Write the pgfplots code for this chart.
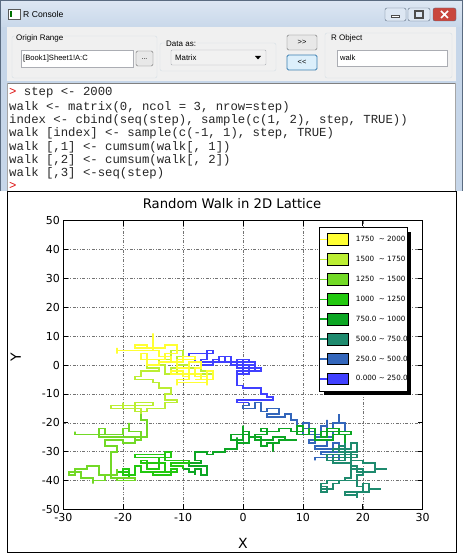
\documentclass[border=0pt]{standalone}
\usepackage{fontspec}
\setmainfont{DejaVu Sans}
\setmonofont{Liberation Mono}
\newfontfamily\uifont{Liberation Sans}
\usepackage{pgfplots}
\pgfplotsset{compat=1.18}
\definecolor{c0}{HTML}{4040FF}
\definecolor{c1}{HTML}{3366BB}
\definecolor{c2}{HTML}{1E8A6E}
\definecolor{c3}{HTML}{0CA623}
\definecolor{c4}{HTML}{22C80F}
\definecolor{c5}{HTML}{72D926}
\definecolor{c6}{HTML}{BBEE33}
\definecolor{c7}{HTML}{FFFF33}
\definecolor{tb1}{HTML}{DDE7F3}
\definecolor{tb2}{HTML}{C9D8EA}
\definecolor{winframe}{HTML}{C6D6E9}
\definecolor{framedark}{HTML}{5A6B80}
\definecolor{panel}{HTML}{F0F0F0}
\definecolor{gbox}{HTML}{D5DFE5}
\definecolor{fieldb}{HTML}{ABADB3}
\definecolor{btnb}{HTML}{707070}
\definecolor{btnf}{HTML}{E8E8E8}
\definecolor{hlb}{HTML}{3C7FB1}
\definecolor{hlf}{HTML}{DCEFFB}
\definecolor{promptred}{HTML}{DD1111}
\definecolor{closered}{HTML}{C9463D}
\pgfplotsset{legbox/.style={legend image code/.code={\path (0pt,0pt) -- (28pt,0pt);\draw[fill=#1,draw=black,line width=0.9pt] (7pt,-5.8pt) rectangle (28pt,5.8pt);}}}
\begin{document}
\begin{tikzpicture}
\useasboundingbox (0,0) rectangle (463pt,553pt);
\begin{scope}[shift={(0pt,553pt)},x=1pt,y=-1pt]
\fill[white] (0,0) rectangle (463,553);
\fill[winframe] (0,0) rectangle (463,191);
\shade[top color=tb1,bottom color=tb2] (0,0) rectangle (463,27);
\draw[framedark,line width=0.8pt] (0.4,191) -- (0.4,0.4) -- (462.6,0.4) -- (462.6,191);
% icon
\fill[white] (8,9) rectangle (20,19);
\draw[gray!70!black,line width=0.5pt] (8,9) rectangle (20,19);
\fill[green!45!black] (9.5,11) rectangle (12,17);
\node[anchor=base west,font=\uifont\fontsize{8.6}{10}\selectfont,inner sep=0] at (23,18) {R Console};
% window buttons
\draw[rounded corners=2pt,fill=tb1,draw=framedark] (385,8) rectangle (406,21);
\fill[white] (391,15) rectangle (399,17.5);
\draw[black!70,line width=0.5pt] (391,15) rectangle (399,17.5);
\draw[rounded corners=2pt,fill=tb1,draw=framedark] (408,8) rectangle (430,21);
\draw[black!70,line width=1.5pt] (415,11) rectangle (423,18);
\draw[rounded corners=2pt,fill=closered,draw=framedark] (433,8) rectangle (456,21);
\draw[white,line width=1.6pt] (441,11) -- (448,18) (448,11) -- (441,18);
% panel
\fill[panel] (7,27) rectangle (456,81);
\draw[gbox,rounded corners=2pt] (12,36) rectangle (157,78);
\node[anchor=base west,font=\uifont\fontsize{8}{10}\selectfont,inner sep=1pt,fill=panel] at (15,41) {Origin Range};
\draw[fieldb,fill=white] (21,50) rectangle (133,67);
\node[anchor=west,font=\uifont\fontsize{7.6}{9}\selectfont,inner sep=0] at (23,58.5) {[Book1]Sheet1!A:C};
\draw[btnb,fill=btnf,rounded corners=1.5pt] (136,51) rectangle (153,66);
\node[font=\uifont\fontsize{7}{8}\selectfont,inner sep=0] at (144.5,59) {...};
\draw[gbox,rounded corners=2pt] (160,43) rectangle (276,71);
\node[anchor=base west,font=\uifont\fontsize{8}{10}\selectfont,inner sep=1pt,fill=panel] at (165,46.5) {Data as:};
\draw[fieldb,fill=btnf!60!white,rounded corners=1pt] (171,50) rectangle (266,65);
\node[anchor=west,font=\uifont\fontsize{7.8}{9}\selectfont,inner sep=0] at (175,58) {Matrix};
\fill[black] (255,56) -- (261,56) -- (258,59.5) -- cycle;
\draw[btnb,fill=btnf,rounded corners=1.5pt] (287,35) rectangle (317,50);
\node[font=\uifont\fontsize{7.5}{9}\selectfont,inner sep=0] at (302,42.5) {>>};
\draw[hlb,fill=hlf,rounded corners=1.5pt,line width=0.9pt] (287,55) rectangle (317,70);
\node[font=\uifont\fontsize{7.5}{9}\selectfont,inner sep=0] at (302,62.5) {<<};
\draw[gbox,rounded corners=2pt] (325,33) rectangle (452,78);
\node[anchor=base west,font=\uifont\fontsize{8}{10}\selectfont,inner sep=1pt,fill=panel] at (330,41) {R Object};
\draw[fieldb,fill=white] (337,50) rectangle (447,66);
\node[anchor=west,font=\uifont\fontsize{7.6}{9}\selectfont,inner sep=0] at (340,58) {walk};
% console
\fill[white] (7,83) rectangle (456,191);
\draw[gray,line width=1.2pt] (7,83.6) -- (456,83.6);
\draw[gray!70,line width=0.8pt] (7.4,83) -- (7.4,191) (455.6,83) -- (455.6,191);
\begin{scope}[every node/.style={anchor=base west,inner sep=0,font=\ttfamily\fontsize{12.3}{13}\selectfont,text=black!85}]
\node at (9,96) {{\color{promptred}>} step <- 2000};
\node at (9,110.5) {walk <- matrix(0, ncol = 3, nrow=step)};
\node at (9,123.7) {index <- cbind(seq(step), sample(c(1, 2), step, TRUE))};
\node at (9,137) {walk [index] <- sample(c(-1, 1), step, TRUE)};
\node at (9,150.3) {walk [,1] <- cumsum(walk[, 1])};
\node at (9,163.6) {walk [,2] <- cumsum(walk[, 2])};
\node at (9,177) {walk [,3] <-seq(step)};
\node at (9,189.3) {{\color{promptred}>}};
\end{scope}
% chart frame
\draw[black,line width=1pt] (7.5,191.5) rectangle (456.5,552.5);
% chart title
\node[anchor=base,inner sep=0,font=\fontsize{13.2}{15}\selectfont] at (232,209) {Random Walk in 2D Lattice};
\end{scope}
\begin{axis}[
  at={(63.3pt,43.5pt)}, anchor=south west,
  width=359.4pt, height=288.8pt, scale only axis,
  xmin=-30, xmax=30, ymin=-50, ymax=50,
  xtick={-30,-20,...,30}, ytick={-50,-40,...,50},
  grid=major,
  major grid style={black!55, line width=0.6pt, dash pattern=on 3pt off 1.5pt on 1pt off 1.5pt on 1pt off 1.5pt},
  axis line style={line width=1pt},
  tick style={black, line width=0.8pt},
  major tick length=5pt,
  tick label style={font=\fontsize{11}{12}\selectfont},
  /pgf/number format/assume math mode=true,
  xlabel={X}, ylabel={Y},
  xlabel style={at={(axis description cs:0.5,-0.116)}, anchor=center, font=\fontsize{14}{16}\selectfont},
  ylabel style={at={(axis description cs:-0.132,0.526)}, anchor=center, rotate=0, font=\fontsize{14}{16}\selectfont},
  legend cell align=left,
  reverse legend,
  legend style={at={(axis description cs:0.711,0.978)}, anchor=north west, draw=black, line width=1pt, fill=white,
    font=\fontsize{7.2}{8.5}\selectfont, row sep=0pt, column sep=7pt, inner xsep=0pt, inner ysep=2.2pt,
    nodes={inner sep=0pt, minimum height=19.9pt}},
  every axis plot/.append style={line width=1.6pt, no marks},
]
\fill[black] (axis description cs:0.7254,0.3965) rectangle (axis description cs:0.9675,0.9609);
\addplot[c0, legbox=c0] coordinates {(0,0)(1,0)(1,-1)(-1,-1)(-1,1)(2,1)(2,-2)(0,-2)(0,2)(-1,2)(-1,0)(-2,0)(-2,1)(-4,1)(-4,3)(-3,3)(-3,1)(-5,1)(-5,0)(-7,0)(-7,1)(-8,1)(-8,3)(-9,3)(-9,4)(-6,4)(-6,5)(-5,5)(-5,4)(-6,4)(-6,2)(-7,2)(-7,1)(-5,1)(-5,2)(-4,2)(-4,1)(-3,1)(-3,3)(-2,3)(-2,1)(-1,1)(-1,2)(1,2)(1,1)(2,1)(2,0)(-1,0)(-1,-1)(3,-1)(3,-2)(-1,-2)(-1,-3)(1,-3)(1,0)(0,0)(0,-3)(-1,-3)(-1,-7)(0,-7)(0,-8)(3,-8)(3,-10)(4,-10)(4,-11)(5,-11)(5,-12)(-1,-12)(-1,-13)(1,-13)};
\addlegendentry{0.000 \textasciitilde{} 250.0}
\addplot[c1, legbox=c1] coordinates {(1,-13)(1,-14)(0,-14)(0,-15)(2,-15)(2,-13)(3,-13)(3,-16)(4,-16)(4,-15)(6,-15)(6,-17)(4,-17)(4,-18)(7,-18)(7,-17)(8,-17)(8,-19)(9,-19)(9,-21)(10,-21)(10,-20)(11,-20)(11,-23)(12,-23)(12,-22)(10,-22)(10,-24)(13,-24)(13,-21)(14,-21)(14,-19)(14,-22)(15,-22)(15,-20)(16,-20)(16,-17)(16,-20)(17,-20)(17,-23)(15,-23)(15,-25)(12,-25)(12,-27)(11,-27)(11,-26)(14,-26)(14,-28)(12,-28)(12,-29)(15,-29)(15,-27)(16,-27)(16,-30)(13,-30)(13,-31)(15,-31)(15,-32)(12,-32)(12,-33)(12,-32)(16,-32)(16,-33)(16,-31)(17,-31)(17,-30)(15,-30)};
\addlegendentry{250.0 \textasciitilde{} 500.0}
\addplot[c2, legbox=c2] coordinates {(15,-30)(15,-29)(18,-29)(18,-27)(19,-27)(19,-30)(16,-30)(16,-28)(17,-28)(17,-33)(14,-33)(14,-31)(19,-31)(19,-32)(15,-32)(15,-34)(18,-34)(18,-33)(20,-33)(20,-34)(22,-34)(22,-36)(24,-36)(22,-36)(22,-37)(19,-37)(19,-35)(18,-35)(18,-39)(17,-39)(17,-40)(14,-40)(14,-41)(13,-41)(13,-44)(14,-44)(14,-42)(13,-42)(13,-43)(15,-43)(15,-41)(16,-41)(16,-40)(19,-40)(19,-42)(20,-42)(20,-41)(21,-41)(21,-43)(23,-43)(21,-43)(21,-44)(19,-44)(19,-46)(19,-45)(17,-45)(17,-44)(20,-44)(20,-42)(19,-42)(19,-38)(20,-38)(20,-36)(18,-36)(18,-30)(17,-30)(17,-27)};
\addlegendentry{500.0 \textasciitilde{} 750.0}
\addplot[c3, legbox=c3] coordinates {(17,-27)(17,-24)(16,-24)(16,-22)(14,-22)(14,-25)(13,-25)(13,-23)(18,-23)(18,-24)(15,-24)(15,-26)(12,-26)(12,-22)(11,-22)(11,-24)(9,-24)(9,-21)(10,-21)(10,-23)(8,-23)(8,-22)(6,-22)(6,-23)(3,-23)(3,-22)(4,-22)(4,-24)(2,-24)(2,-26)(5,-26)(5,-25)(7,-25)(7,-26)(9,-26)(6,-26)(6,-27)(5,-27)(5,-30)(5,-27)(4,-27)(4,-28)(3,-28)(3,-25)(1,-25)(1,-23)(0,-23)(0,-21)(0,-26)(-2,-26)(-2,-24)(1,-24)(1,-27)(-1,-27)(-1,-25)(-1,-29)(-3,-29)(-3,-30)(-5,-30)(-5,-31)(-6,-31)(-6,-30)(-8,-30)(-8,-33)(-7,-33)(-7,-34)(-9,-34)(-9,-35)(-6,-35)(-6,-38)(-7,-38)(-7,-36)(-8,-36)(-8,-38)(-8,-37)(-9,-37)(-9,-36)(-10,-36)};
\addlegendentry{750.0 \textasciitilde{} 1000}
\addplot[c4, legbox=c4] coordinates {(-10,-36)(-10,-35)(-12,-35)(-12,-34)(-9,-34)(-9,-33)(-13,-33)(-13,-31)(-18,-31)(-18,-32)(-12,-32)(-12,-30)(-13,-30)(-13,-32)(-14,-32)(-14,-36)(-16,-36)(-16,-33)(-17,-33)(-17,-34)(-13,-34)(-13,-37)(-15,-37)(-15,-38)(-12,-38)(-12,-36)(-11,-36)(-11,-37)(-17,-37)(-17,-35)(-18,-35)(-18,-38)(-20,-38)(-20,-36)(-19,-36)(-19,-39)(-19,-37)(-21,-37)(-21,-36)};
\addlegendentry{1000\ \ \textasciitilde{} 1250}
\addplot[c5, legbox=c5] coordinates {(-21,-36)(-21,-38)(-23,-38)(-23,-40)(-25,-40)(-25,-41)(-25,-39)(-27,-39)(-27,-37)(-29,-37)(-29,-38)(-28,-38)(-28,-36)(-26,-36)(-26,-35)(-24,-35)(-24,-38)(-22,-38)(-22,-39)(-18,-39)(-18,-40)(-21,-40)(-21,-39)(-22,-39)(-22,-30)(-21,-30)(-21,-28)(-23,-28)(-23,-26)(-20,-26)(-20,-27)(-18,-27)(-18,-25)(-24,-25)(-24,-22)(-23,-22)(-23,-24)(-28,-24)(-28,-23)(-28,-24)(-20,-24)(-20,-22)(-19,-22)(-19,-20)(-19,-23)(-17,-23)(-17,-26)(-18,-26)(-18,-25)(-16,-25)(-16,-19)(-17,-19)(-17,-17)};
\addlegendentry{1250\ \ \textasciitilde{} 1500}
\addplot[c6, legbox=c6] coordinates {(-17,-17)(-17,-15)(-20,-15)(-20,-13)(-20,-15)(-22,-15)(-22,-14)(-15,-14)(-15,-13)(-18,-13)(-18,-16)(-16,-16)(-16,-15)(-13,-15)(-13,-13)(-11,-13)(-11,-12)(-13,-12)(-13,-10)(-12,-10)(-12,-8)(-14,-8)(-14,-6)(-15,-6)(-15,-5)(-18,-5)(-18,-4)(-17,-4)(-17,-2)(-14,-2)(-14,-1)(-16,-1)(-16,0)(-13,0)(-13,-3)(-11,-3)(-11,-1)(-12,-1)(-12,-2)(-10,-2)(-10,-3)(-5,-3)(-5,-2)(-7,-2)(-7,-1)(-9,-1)(-9,0)(-11,0)(-11,3)(-10,3)(-10,5)(-12,5)(-12,2)(-14,2)(-14,1)(-12,1)};
\addlegendentry{1500\ \ \textasciitilde{} 1750}
\addplot[c7, legbox=c7] coordinates {(-12,1)(-12,3)(-14,3)(-14,5)(-21,5)(-21,4)(-21,6)(-21,5)(-15,5)(-15,11)(-15,6)(-18,6)(-18,7)(-16,7)(-16,6)(-13,6)(-13,7)(-11,7)(-11,4)(-13,4)(-13,2)(-17,2)(-17,4)(-16,4)(-16,0)(-14,0)(-14,1)(-10,1)(-10,3)(-8,3)(-8,2)(-11,2)(-11,-1)(-9,-1)(-9,-4)(-10,-4)(-10,-2)(-12,-2)(-12,-3)(-7,-3)(-7,-5)(-6,-5)(-6,-7)(-6,-4)(-8,-4)(-8,-1)(-7,-1)(-7,1)(-9,1)(-9,-5)(-11,-5)(-11,-7)(-11,-6)(-6,-6)(-6,-2)(-5,-2)(-5,-5)(-8,-5)};
\addlegendentry{1750\ \ \textasciitilde{} 2000}
\end{axis}
\end{tikzpicture}
\end{document}
